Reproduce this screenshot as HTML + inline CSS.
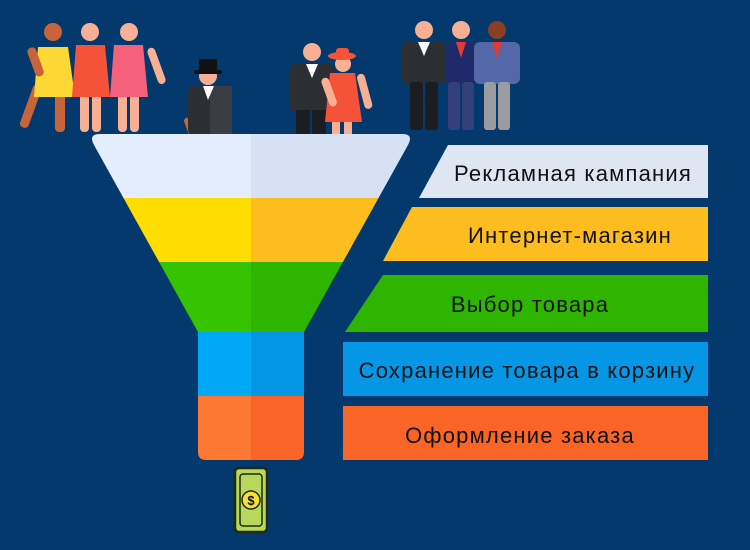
<!DOCTYPE html>
<html><head><meta charset="utf-8"><style>
html,body{margin:0;padding:0;background:#03396c;}
svg{display:block}
text{font-family:"Liberation Sans","DejaVu Sans",sans-serif;font-size:22px;fill:#111;letter-spacing:1.2px}
</style></head><body>
<svg width="750" height="550" viewBox="0 0 750 550" xmlns="http://www.w3.org/2000/svg">
<rect width="750" height="550" fill="#03396c"/>
<!-- women -->
<g>
<rect x="34" y="85" width="9" height="45" rx="4" fill="#c8643a" transform="rotate(20 38 85)"/>
<rect x="55" y="88" width="10" height="44" rx="4" fill="#c8643a"/>
<path d="M38 47 L68 47 L75 97 L34 97 Z" fill="#fdd835"/>
<rect x="26" y="48" width="9" height="30" rx="4" fill="#c8643a" transform="rotate(-20 30 48)"/>
<circle cx="53" cy="32" r="9" fill="#c8643a"/>
<rect x="80" y="90" width="9" height="42" rx="4" fill="#f7b094"/>
<rect x="92" y="90" width="9" height="42" rx="4" fill="#f7b094"/>
<path d="M76 45 L105 45 L110 97 L72 97 Z" fill="#f4533a"/>
<circle cx="90" cy="32" r="9" fill="#f7b094"/>
<rect x="118" y="90" width="9" height="42" rx="4" fill="#f7b094"/>
<rect x="130" y="90" width="9" height="42" rx="4" fill="#f7b094"/>
<path d="M114 45 L143 45 L148 97 L110 97 Z" fill="#f5607a"/>
<rect x="146" y="48" width="8" height="38" rx="4" fill="#f7b094" transform="rotate(-20 150 48)"/>
<circle cx="129" cy="32" r="9" fill="#f7b094"/>
</g>
<!-- top-hat man -->
<g>
<rect x="183" y="118" width="6" height="18" rx="3" fill="#c8643a" transform="rotate(-20 186 118)"/>
<rect x="188" y="86" width="44" height="50" rx="6" fill="#2b2e33"/>
<rect x="210" y="86" width="22" height="50" fill="#3a3d42"/>
<path d="M203 86 L214 86 L208 100 Z" fill="#fff"/>
<circle cx="208" cy="76" r="9" fill="#f7b094"/>
<rect x="199" y="59" width="18" height="13" fill="#111"/>
<rect x="194" y="70" width="28" height="4" rx="2" fill="#111"/>
</g>
<!-- couple -->
<g>
<rect x="290" y="64" width="45" height="48" rx="6" fill="#2b2e33"/>
<rect x="296" y="110" width="14" height="26" fill="#1c1d20"/>
<rect x="312" y="110" width="14" height="26" fill="#1c1d20"/>
<path d="M306 64 L318 64 L312 78 Z" fill="#fff"/>
<circle cx="312" cy="52" r="9" fill="#f7b094"/>
<rect x="332" y="112" width="8" height="24" fill="#f7b094"/>
<rect x="344" y="112" width="8" height="24" fill="#f7b094"/>
<path d="M330 73 L355 73 L362 122 L325 122 Z" fill="#f4533a"/>
<rect x="320" y="78" width="8" height="30" rx="4" fill="#f7b094" transform="rotate(-20 324 78)"/>
<rect x="356" y="74" width="8" height="36" rx="4" fill="#f7b094" transform="rotate(-15 360 74)"/>
<circle cx="343" cy="64" r="8" fill="#f7b094"/>
<ellipse cx="342" cy="56" rx="14" ry="4" fill="#f4533a"/>
<rect x="336" y="48" width="13" height="8" rx="3" fill="#f4533a"/>
</g>
<!-- three men -->
<g>
<rect x="402" y="42" width="44" height="42" rx="6" fill="#2b2e33"/>
<rect x="410" y="82" width="13" height="48" rx="3" fill="#1c1d20"/>
<rect x="425" y="82" width="13" height="48" rx="3" fill="#1c1d20"/>
<path d="M418 42 L430 42 L424 56 Z" fill="#fff"/>
<circle cx="424" cy="30" r="9" fill="#f7b094"/>
<rect x="446" y="42" width="32" height="42" rx="5" fill="#1e2a6a"/>
<rect x="448" y="82" width="12" height="48" rx="3" fill="#34407c"/>
<rect x="462" y="82" width="12" height="48" rx="3" fill="#34407c"/>
<path d="M456 42 L466 42 L461 58 Z" fill="#e53935"/>
<circle cx="461" cy="30" r="9" fill="#f7b094"/>
<rect x="474" y="42" width="46" height="42" rx="6" fill="#5468a8"/>
<rect x="484" y="82" width="12" height="48" rx="3" fill="#9a9ca2"/>
<rect x="498" y="82" width="12" height="48" rx="3" fill="#9a9ca2"/>
<path d="M492 42 L502 42 L497 58 Z" fill="#e53935"/>
<circle cx="497" cy="30" r="9" fill="#8a3f22"/>
</g>
<!-- funnel -->
<defs><clipPath id="fc"><path d="M100 134 L402 134 Q414 134 408 145 L304 332 L304 452 Q304 460 296 460 L206 460 Q198 460 198 452 L198 332 L94 145 Q88 134 100 134 Z"/></clipPath></defs>
<g clip-path="url(#fc)">
<rect x="80" y="130" width="171" height="69" fill="#e3edfb"/><rect x="251" y="130" width="170" height="69" fill="#d6e2f3"/>
<rect x="80" y="198" width="171" height="64" fill="#ffdd00"/><rect x="251" y="198" width="170" height="64" fill="#fdbd1f"/>
<rect x="80" y="262" width="171" height="70" fill="#36c400"/><rect x="251" y="262" width="170" height="70" fill="#2db500"/>
<rect x="80" y="332" width="171" height="64" fill="#00a8f5"/><rect x="251" y="332" width="170" height="64" fill="#0596e6"/>
<rect x="80" y="396" width="171" height="70" fill="#fc7833"/><rect x="251" y="396" width="170" height="70" fill="#f86527"/>
</g>
<!-- money -->
<rect x="235" y="468" width="32" height="64" rx="4" fill="#b8d85c" stroke="#1f2a10" stroke-width="2.5"/>
<rect x="240" y="474" width="22" height="52" rx="3" fill="none" stroke="#1f2a10" stroke-width="1.5"/>
<circle cx="251" cy="500" r="9" fill="#f5e13a" stroke="#1f2a10" stroke-width="1.5"/>
<text x="251" y="505" text-anchor="middle" style="font-size:13px;font-weight:bold;letter-spacing:0">$</text>
<!-- labels -->
<path d="M448 145 L708 145 L708 198 L419 198 Z" fill="#dee6f2"/>
<path d="M412 207 L708 207 L708 261 L383 261 Z" fill="#fdbd1f"/>
<path d="M383 275 L708 275 L708 332 L345 332 Z" fill="#2db500"/>
<rect x="343" y="342" width="365" height="54" fill="#0596e6"/>
<rect x="343" y="406" width="365" height="54" fill="#f86527"/>
<text x="573" y="181" text-anchor="middle">Рекламная кампания</text>
<text x="570" y="243" text-anchor="middle">Интернет-магазин</text>
<text x="530" y="312" text-anchor="middle">Выбор товара</text>
<text x="527" y="378" text-anchor="middle">Сохранение товара в корзину</text>
<text x="520" y="443" text-anchor="middle">Оформление заказа</text>
</svg>
</body></html>
